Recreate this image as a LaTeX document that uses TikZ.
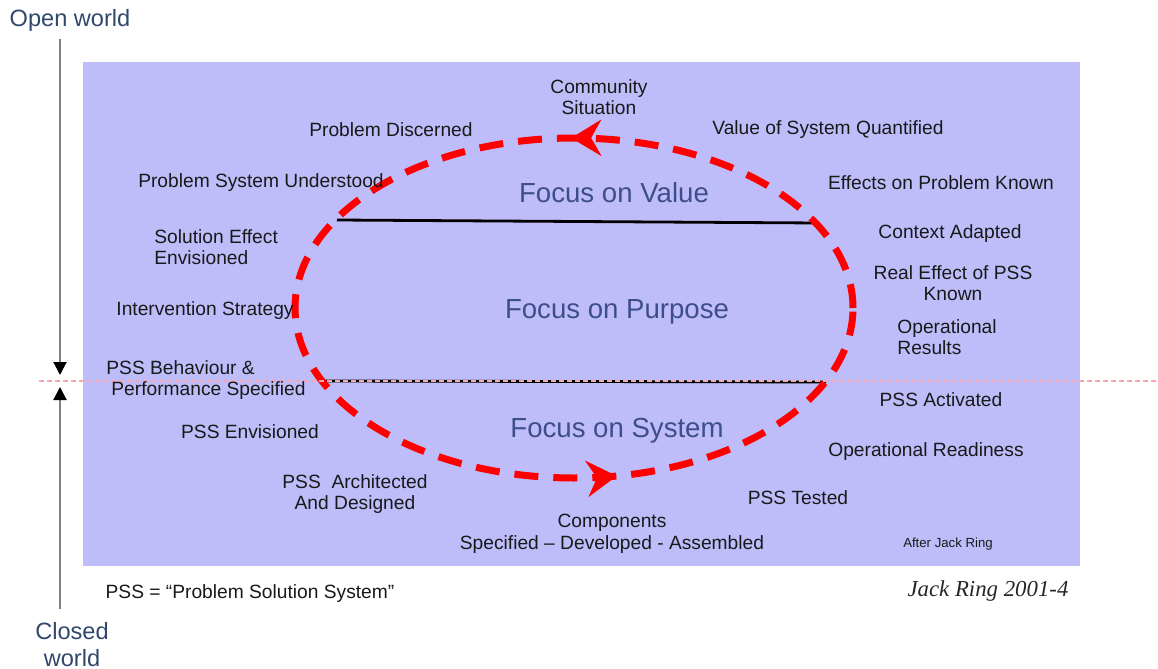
\documentclass[tikz,border=0pt]{standalone}
\usepackage{fontspec}
\setmainfont{Liberation Sans}
\newfontfamily\serifit{Liberation Serif}
\usetikzlibrary{arrows.meta,decorations.markings}
\definecolor{bgblue}{RGB}{190,189,250}
\definecolor{focusblue}{RGB}{62,78,138}
\definecolor{worldblue}{RGB}{48,72,108}
\definecolor{pinkline}{RGB}{250,165,175}

\begin{document}
\begin{tikzpicture}[x=0.5pt,y=-0.5pt,
    lbl/.style={inner sep=0pt,text=black!90,font=\fontsize{9.6}{10.8}\selectfont,align=center},
    focus/.style={inner sep=0pt,text=focusblue,font=\fontsize{13.8}{16}\selectfont},
    world/.style={inner sep=0pt,text=worldblue,font=\fontsize{11.8}{13.5}\selectfont,align=center},
    loop/.style={red,line width=3.5pt,dash pattern=on 12pt off 7.5pt}]
    \useasboundingbox (0,0) rectangle (1158,669);
    \fill[bgblue] (83,62) rectangle (1080,566);

    \coordinate (otop) at (60,39);
    \coordinate (odown) at (60,375);
    \coordinate (cup) at (60,387);
    \coordinate (cbot) at (60,609);
    \draw[gray,line width=1pt,-{Triangle[black,length=6.5pt,width=6.5pt]}] (otop) -- (odown);
    \draw[gray,line width=1pt,-{Triangle[black,length=6.5pt,width=6.5pt]}] (cbot) -- (cup);

    \coordinate (vl) at (337,220);
    \coordinate (vr) at (819,223);
    \coordinate (sl) at (324,381);
    \coordinate (sr) at (826,382);
    \draw[line width=1.4pt] (vl) -- (vr);
    \draw[line width=1.4pt] (sl) -- (sr);

    \draw[loop,postaction={decorate},decoration={markings,
        mark=at position 0.252 with {\arrow[red]{Stealth[length=15pt,width=18pt,inset=5pt]}},
        mark=at position 0.78 with {\arrow[red]{Stealth[length=15pt,width=18pt,inset=5pt]}}}]
        (853,308) arc[start angle=0,end angle=-360,x radius=279,y radius=170];

    \coordinate (dl) at (39,381);
    \coordinate (dr) at (1158,381);
    \draw[pinkline,line width=1pt,dash pattern=on 2.5pt off 1.5pt] (dl) -- (dr);

    \node[world] (open) at (70,20) {Open world};
    \node[world] (closed) at (72,645) {Closed\\world};

    \node[focus] (fval) at (614,193) {Focus on Value};
    \node[focus] (fpur) at (617,312) {Focus on Purpose};
    \node[focus] (fsys) at (617,431) {Focus on System};

    \node[lbl] (comm) at (599,97) {Community\\Situation};
    \node[lbl] (discern) at (391,130) {Problem Discerned};
    \node[lbl] (valq) at (828,130) {Value of System Quantified};
    \node[lbl] (psu) at (261,183) {Problem System Understood};
    \node[lbl] (effk) at (941,183) {Effects on Problem Known};
    \node[lbl,anchor=west,align=left] (see) at (154,247) {Solution Effect\\Envisioned};
    \node[lbl] (ctx) at (950,234) {Context Adapted};
    \node[lbl] (real) at (953,283) {Real Effect of PSS\\Known};
    \node[lbl] (inter) at (205,311) {Intervention Strategy};
    \node[lbl,anchor=west,align=left] (opres) at (897,337) {Operational\\Results};
    \node[lbl,anchor=west,align=left] (behav) at (106,380) {PSS Behaviour \&\\\hspace{2.5pt}Performance Specified};
    \node[lbl] (act) at (941,400) {PSS Activated};
    \node[lbl] (envis) at (250,432) {PSS Envisioned};
    \node[lbl] (opready) at (926,452) {Operational Readiness};
    \node[lbl] (arch) at (355,494) {PSS\ \ Architected\\And Designed};
    \node[lbl] (tested) at (798,498) {PSS Tested};
    \node[lbl] (comp) at (612,534) {Components\\Specified \textendash{} Developed - Assembled};
    \node[lbl,font=\fontsize{6.6}{8}\selectfont] (after) at (948,544) {After Jack Ring};
    \node[lbl] (legend) at (250,594) {PSS = “Problem Solution System”};
    \node[inner sep=0pt,text=black!85,font=\serifit\itshape\fontsize{11.4}{13}\selectfont] (jring) at (988,591) {Jack Ring 2001-4};
\end{tikzpicture}
\end{document}
